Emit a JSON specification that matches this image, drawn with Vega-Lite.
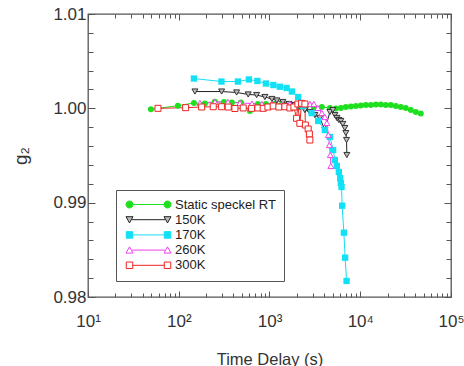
{
  "$schema": "https://vega.github.io/schema/vega-lite/v6.json",
  "width": 363,
  "height": 283,
  "autosize": "none",
  "padding": {"left": 88, "top": 14, "right": 13, "bottom": 69},
  "background": "white",
  "config": {
    "view": {"stroke": "#555555", "strokeWidth": 1.3},
    "font": "Liberation Sans",
    "axis": {"domain": false, "grid": false, "tickColor": "#555555", "tickWidth": 1, "labelColor": "#333333", "titleColor": "#333333", "labelFont": "Liberation Sans", "titleFont": "Liberation Sans", "titleFontWeight": "normal", "labelFontSize": 17, "titleFontSize": 16.5, "labelOverlap": false, "labelBound": false, "labelFlush": false}
  },
  "data": {
    "values": [
      {"series": "Static speckel RT", "t": 49.4, "g2": 0.9999},
      {"series": "Static speckel RT", "t": 98, "g2": 1.00028},
      {"series": "Static speckel RT", "t": 147, "g2": 1.00057},
      {"series": "Static speckel RT", "t": 194, "g2": 1.00051},
      {"series": "Static speckel RT", "t": 250, "g2": 1.0007},
      {"series": "Static speckel RT", "t": 315, "g2": 1.00067},
      {"series": "Static speckel RT", "t": 385, "g2": 1.00062},
      {"series": "Static speckel RT", "t": 484, "g2": 1.00062},
      {"series": "Static speckel RT", "t": 608, "g2": 0.99972},
      {"series": "Static speckel RT", "t": 745, "g2": 1.00046},
      {"series": "Static speckel RT", "t": 912, "g2": 1.00046},
      {"series": "Static speckel RT", "t": 1117, "g2": 1.00046},
      {"series": "Static speckel RT", "t": 1370, "g2": 1.00046},
      {"series": "Static speckel RT", "t": 1679, "g2": 1.00025},
      {"series": "Static speckel RT", "t": 2056, "g2": 1.00025},
      {"series": "Static speckel RT", "t": 2518, "g2": 1.00025},
      {"series": "Static speckel RT", "t": 3083, "g2": 1.00014},
      {"series": "Static speckel RT", "t": 3776, "g2": 1.00014},
      {"series": "Static speckel RT", "t": 4624, "g2": 1.00004},
      {"series": "Static speckel RT", "t": 5385, "g2": 0.99998},
      {"series": "Static speckel RT", "t": 6114, "g2": 1.00004},
      {"series": "Static speckel RT", "t": 6940, "g2": 1.00014},
      {"series": "Static speckel RT", "t": 7875, "g2": 1.0002},
      {"series": "Static speckel RT", "t": 8950, "g2": 1.00025},
      {"series": "Static speckel RT", "t": 10160, "g2": 1.0003},
      {"series": "Static speckel RT", "t": 11530, "g2": 1.00035},
      {"series": "Static speckel RT", "t": 13090, "g2": 1.00035},
      {"series": "Static speckel RT", "t": 14860, "g2": 1.0004},
      {"series": "Static speckel RT", "t": 16870, "g2": 1.0004},
      {"series": "Static speckel RT", "t": 19140, "g2": 1.00035},
      {"series": "Static speckel RT", "t": 21730, "g2": 1.00035},
      {"series": "Static speckel RT", "t": 24660, "g2": 1.00025},
      {"series": "Static speckel RT", "t": 27990, "g2": 1.00014},
      {"series": "Static speckel RT", "t": 31770, "g2": 1.00004},
      {"series": "Static speckel RT", "t": 36060, "g2": 0.99982},
      {"series": "Static speckel RT", "t": 40930, "g2": 0.99961},
      {"series": "Static speckel RT", "t": 46450, "g2": 0.99945},

      {"series": "150K", "t": 150.8, "g2": 1.00178},
      {"series": "150K", "t": 296.9, "g2": 1.00178},
      {"series": "150K", "t": 434.2, "g2": 1.00168},
      {"series": "150K", "t": 582.8, "g2": 1.00147},
      {"series": "150K", "t": 721.1, "g2": 1.00141},
      {"series": "150K", "t": 889.8, "g2": 1.0012},
      {"series": "150K", "t": 1063, "g2": 1.00099},
      {"series": "150K", "t": 1206, "g2": 1.00083},
      {"series": "150K", "t": 1404, "g2": 1.00067},
      {"series": "150K", "t": 1636, "g2": 1.00046},
      {"series": "150K", "t": 1904, "g2": 1.00035},
      {"series": "150K", "t": 2161, "g2": 1.00014},
      {"series": "150K", "t": 2454, "g2": 0.99982},
      {"series": "150K", "t": 2786, "g2": 0.99961},
      {"series": "150K", "t": 3162, "g2": 0.99929},
      {"series": "150K", "t": 3591, "g2": 0.99898},
      {"series": "150K", "t": 4075, "g2": 0.9977},
      {"series": "150K", "t": 4627, "g2": 0.99961},
      {"series": "150K", "t": 4991, "g2": 0.99982},
      {"series": "150K", "t": 5251, "g2": 0.99929},
      {"series": "150K", "t": 5524, "g2": 0.99898},
      {"series": "150K", "t": 5811, "g2": 0.99876},
      {"series": "150K", "t": 6113, "g2": 0.99866},
      {"series": "150K", "t": 6432, "g2": 0.99834},
      {"series": "150K", "t": 6766, "g2": 0.99791},
      {"series": "150K", "t": 6940, "g2": 0.99738},
      {"series": "150K", "t": 7064, "g2": 0.99664},
      {"series": "150K", "t": 7118, "g2": 0.99505},

      {"series": "170K", "t": 147, "g2": 1.00316},
      {"series": "170K", "t": 295.4, "g2": 1.00284},
      {"series": "170K", "t": 448.7, "g2": 1.00284},
      {"series": "170K", "t": 593.2, "g2": 1.00306},
      {"series": "170K", "t": 735.8, "g2": 1.0029},
      {"series": "170K", "t": 912.7, "g2": 1.00263},
      {"series": "170K", "t": 1104, "g2": 1.00247},
      {"series": "170K", "t": 1301, "g2": 1.00229},
      {"series": "170K", "t": 1543, "g2": 1.00216},
      {"series": "170K", "t": 1765, "g2": 1.00178},
      {"series": "170K", "t": 2071, "g2": 1.0012},
      {"series": "170K", "t": 2350, "g2": 1.00025},
      {"series": "170K", "t": 2909, "g2": 0.9995},
      {"series": "170K", "t": 3439, "g2": 0.99866},
      {"series": "170K", "t": 4075, "g2": 0.9977},
      {"series": "170K", "t": 4627, "g2": 0.99696},
      {"series": "170K", "t": 5029, "g2": 0.99558},
      {"series": "170K", "t": 5251, "g2": 0.99452},
      {"series": "170K", "t": 5524, "g2": 0.99389},
      {"series": "170K", "t": 5811, "g2": 0.99325},
      {"series": "170K", "t": 6006, "g2": 0.99261},
      {"series": "170K", "t": 6113, "g2": 0.99208},
      {"series": "170K", "t": 6224, "g2": 0.99166},
      {"series": "170K", "t": 6319, "g2": 0.98968},
      {"series": "170K", "t": 6597, "g2": 0.98682},
      {"series": "170K", "t": 6818, "g2": 0.98417},
      {"series": "170K", "t": 7064, "g2": 0.9817},

      {"series": "260K", "t": 171.2, "g2": 1.00057},
      {"series": "260K", "t": 250.6, "g2": 1.00067},
      {"series": "260K", "t": 348.3, "g2": 1.00067},
      {"series": "260K", "t": 472.1, "g2": 1.00057},
      {"series": "260K", "t": 640, "g2": 1.00051},
      {"series": "260K", "t": 824.8, "g2": 1.00046},
      {"series": "260K", "t": 1063, "g2": 1.00046},
      {"series": "260K", "t": 1369, "g2": 1.00041},
      {"series": "260K", "t": 1678, "g2": 1.00046},
      {"series": "260K", "t": 2055, "g2": 1.00046},
      {"series": "260K", "t": 2454, "g2": 1.00057},
      {"series": "260K", "t": 2786, "g2": 1.00046},
      {"series": "260K", "t": 3083, "g2": 1.00046},
      {"series": "260K", "t": 3412, "g2": 1.00004},
      {"series": "260K", "t": 3777, "g2": 0.9995},
      {"series": "260K", "t": 4075, "g2": 0.99908},
      {"series": "260K", "t": 4288, "g2": 0.99845},
      {"series": "260K", "t": 4455, "g2": 0.99717},
      {"series": "260K", "t": 4568, "g2": 0.99611},
      {"series": "260K", "t": 4685, "g2": 0.99505},
      {"series": "260K", "t": 4745, "g2": 0.99389},

      {"series": "300K", "t": 59, "g2": 1.0},
      {"series": "300K", "t": 119.1, "g2": 1.00007},
      {"series": "300K", "t": 178.8, "g2": 1.00014},
      {"series": "300K", "t": 239.9, "g2": 1.00017},
      {"series": "300K", "t": 296.9, "g2": 1.00017},
      {"series": "300K", "t": 351, "g2": 1.00014},
      {"series": "300K", "t": 415.8, "g2": 0.99998},
      {"series": "300K", "t": 513.3, "g2": 1.00004},
      {"series": "300K", "t": 635.2, "g2": 1.0},
      {"series": "300K", "t": 745, "g2": 1.00004},
      {"series": "300K", "t": 852.3, "g2": 1.0},
      {"series": "300K", "t": 960.3, "g2": 1.00014},
      {"series": "300K", "t": 1098, "g2": 1.00025},
      {"series": "300K", "t": 1269, "g2": 1.00014},
      {"series": "300K", "t": 1478, "g2": 1.00017},
      {"series": "300K", "t": 1678, "g2": 1.00004},
      {"series": "300K", "t": 1857, "g2": 1.00014},
      {"series": "300K", "t": 1988, "g2": 0.99894},
      {"series": "300K", "t": 2055, "g2": 1.00046},
      {"series": "300K", "t": 2161, "g2": 0.99841},
      {"series": "300K", "t": 2257, "g2": 1.00053},
      {"series": "300K", "t": 2454, "g2": 1.00046},
      {"series": "300K", "t": 2485, "g2": 0.99823},
      {"series": "300K", "t": 2668, "g2": 0.99781},
      {"series": "300K", "t": 2751, "g2": 0.99728},
      {"series": "300K", "t": 2786, "g2": 0.99664}
    ]
  },
  "layer": [
    {
      "mark": {"type": "line", "strokeWidth": 1, "clip": true},
      "encoding": {
        "x": {
          "field": "t", "type": "quantitative",
          "scale": {"type": "log", "domain": [10, 100000], "nice": false},
          "axis": {
            "orient": "bottom",
            "title": "Time Delay (s)",
            "titlePadding": 20,
            "values": [10, 20, 30, 40, 50, 60, 70, 80, 90, 100, 200, 300, 400, 500, 600, 700, 800, 900, 1000, 2000, 3000, 4000, 5000, 6000, 7000, 8000, 9000, 10000, 20000, 30000, 40000, 50000, 60000, 70000, 80000, 90000, 100000],
            "labelExpr": "datum.value == 10 ? '10¹' : datum.value == 100 ? '10²' : datum.value == 1000 ? '10³' : datum.value == 10000 ? '10⁴' : datum.value == 100000 ? '10⁵' : ''",
            "tickSize": {"condition": {"test": "abs(log(datum.value)/LN10 - round(log(datum.value)/LN10)) < 0.001", "value": -6}, "value": -4},
            "labelPadding": 22
          }
        },
        "y": {
          "field": "g2", "type": "quantitative",
          "scale": {"domain": [0.98, 1.01], "zero": false, "nice": false},
          "axis": {
            "orient": "left",
            "title": "g₂",
            "titleFontSize": 19,
            "titlePadding": 22,
            "values": [0.98, 0.982, 0.984, 0.986, 0.988, 0.99, 0.992, 0.994, 0.996, 0.998, 1.0, 1.002, 1.004, 1.006, 1.008, 1.01],
            "labelExpr": "abs(datum.value*100 - round(datum.value*100)) < 0.01 ? format(datum.value, '.2f') : ''",
            "tickSize": {"condition": {"test": "abs(datum.value*100 - round(datum.value*100)) < 0.01", "value": -7}, "value": -5},
            "labelPadding": 9
          }
        },
        "color": {
          "field": "series", "type": "nominal",
          "scale": {"domain": ["Static speckel RT", "150K", "170K", "260K", "300K"], "range": ["#1ee01e", "#222222", "#11e0f5", "#ee44ee", "#ee2222"]},
          "legend": {
            "orient": "none",
            "legendX": 28,
            "legendY": 176,
            "title": null,
            "padding": 8,
            "strokeColor": "#555555",
            "fillColor": "white",
            "symbolType": "M-3.1,0L3.1,0",
            "symbolSize": 100,
            "symbolOffset": 18,
            "labelOffset": 20,
            "labelFontSize": 13,
            "labelColor": "#222222",
            "labelFont": "Liberation Sans",
            "rowPadding": 1.2,
            "encode": {
              "symbols": {
                "update": {
                  "shape": {"signal": "datum.value === 'Static speckel RT' ? 'M-3.1,0L3.1,0M-4.5,0A0.7,0.7,0,1,1,-3.1,0A0.7,0.7,0,1,1,-4.5,0ZM3.1,0A0.7,0.7,0,1,1,4.5,0A0.7,0.7,0,1,1,3.1,0Z' : datum.value === '150K' ? 'M-3.3,0L3.3,0M-4.5,-0.6L-3.1,-0.6L-3.8,0.65ZM3.1,-0.6L4.5,-0.6L3.8,0.65Z' : datum.value === '260K' ? 'M-3.3,0L3.3,0M-4.5,0.6L-3.1,0.6L-3.8,-0.65ZM3.1,0.6L4.5,0.6L3.8,-0.65Z' : 'M-3.15,0L3.15,0M-4.45,-0.65H-3.15V0.65H-4.45ZM3.15,-0.65H4.45V0.65H3.15Z'"},
                  "fill": {"signal": "datum.value === 'Static speckel RT' ? '#1ee01e' : datum.value === '150K' ? '#bbbbbb' : datum.value === '170K' ? '#11e0f5' : '#ffffff'"},
                  "stroke": {"signal": "datum.value === 'Static speckel RT' ? '#1ee01e' : datum.value === '150K' ? '#333333' : datum.value === '170K' ? '#11e0f5' : datum.value === '260K' ? '#ee44ee' : '#ee2222'"},
                  "strokeWidth": {"value": 1},
                  "opacity": {"value": 1},
                  "fillOpacity": {"value": 1},
                  "strokeOpacity": {"value": 1}
                }
              }
            }
          }
        }
      }
    },
    {
      "transform": [{"filter": "datum.series === 'Static speckel RT'"}],
      "mark": {"type": "point", "shape": "circle", "size": 36, "filled": true, "color": "#1ee01e", "opacity": 1, "clip": true},
      "encoding": {
        "x": {
          "field": "t", "type": "quantitative",
          "axis": {
            "orient": "top",
            "title": null,
            "labels": false,
            "values": [10, 20, 30, 40, 50, 60, 70, 80, 90, 100, 200, 300, 400, 500, 600, 700, 800, 900, 1000, 2000, 3000, 4000, 5000, 6000, 7000, 8000, 9000, 10000, 20000, 30000, 40000, 50000, 60000, 70000, 80000, 90000, 100000],
            "tickSize": {"condition": {"test": "abs(log(datum.value)/LN10 - round(log(datum.value)/LN10)) < 0.001", "value": -6}, "value": -4}
          }
        },
        "y": {
          "field": "g2", "type": "quantitative",
          "axis": {
            "orient": "right",
            "title": null,
            "labels": false,
            "values": [0.98, 0.982, 0.984, 0.986, 0.988, 0.99, 0.992, 0.994, 0.996, 0.998, 1.0, 1.002, 1.004, 1.006, 1.008, 1.01],
            "tickSize": {"condition": {"test": "abs(datum.value*100 - round(datum.value*100)) < 0.01", "value": -7}, "value": -5}
          }
        }
      }
    },
    {
      "transform": [{"filter": "datum.series === '150K'"}],
      "mark": {"type": "point", "shape": "triangle-down", "size": 36, "filled": false, "fill": "#bbbbbb", "stroke": "#333333", "strokeWidth": 1, "opacity": 1, "fillOpacity": 1, "clip": true},
      "encoding": {
        "x": {"field": "t", "type": "quantitative", "axis": null},
        "y": {"field": "g2", "type": "quantitative", "axis": null}
      }
    },
    {
      "transform": [{"filter": "datum.series === '170K'"}],
      "mark": {"type": "point", "shape": "square", "size": 40, "filled": true, "color": "#11e0f5", "opacity": 1, "clip": true},
      "encoding": {
        "x": {"field": "t", "type": "quantitative", "axis": null},
        "y": {"field": "g2", "type": "quantitative", "axis": null}
      }
    },
    {
      "transform": [{"filter": "datum.series === '260K'"}],
      "mark": {"type": "point", "shape": "triangle-up", "size": 36, "filled": false, "fill": "#ffffff", "stroke": "#ee44ee", "strokeWidth": 1, "opacity": 1, "fillOpacity": 1, "clip": true},
      "encoding": {
        "x": {"field": "t", "type": "quantitative", "axis": null},
        "y": {"field": "g2", "type": "quantitative", "axis": null}
      }
    },
    {
      "transform": [{"filter": "datum.series === '300K'"}],
      "mark": {"type": "point", "shape": "square", "size": 36, "filled": false, "fill": "#ffffff", "stroke": "#ee2222", "strokeWidth": 1, "opacity": 1, "fillOpacity": 1, "clip": true},
      "encoding": {
        "x": {"field": "t", "type": "quantitative", "axis": null},
        "y": {"field": "g2", "type": "quantitative", "axis": null}
      }
    }
  ],
  "resolve": {"axis": {"x": "independent", "y": "independent"}}
}
